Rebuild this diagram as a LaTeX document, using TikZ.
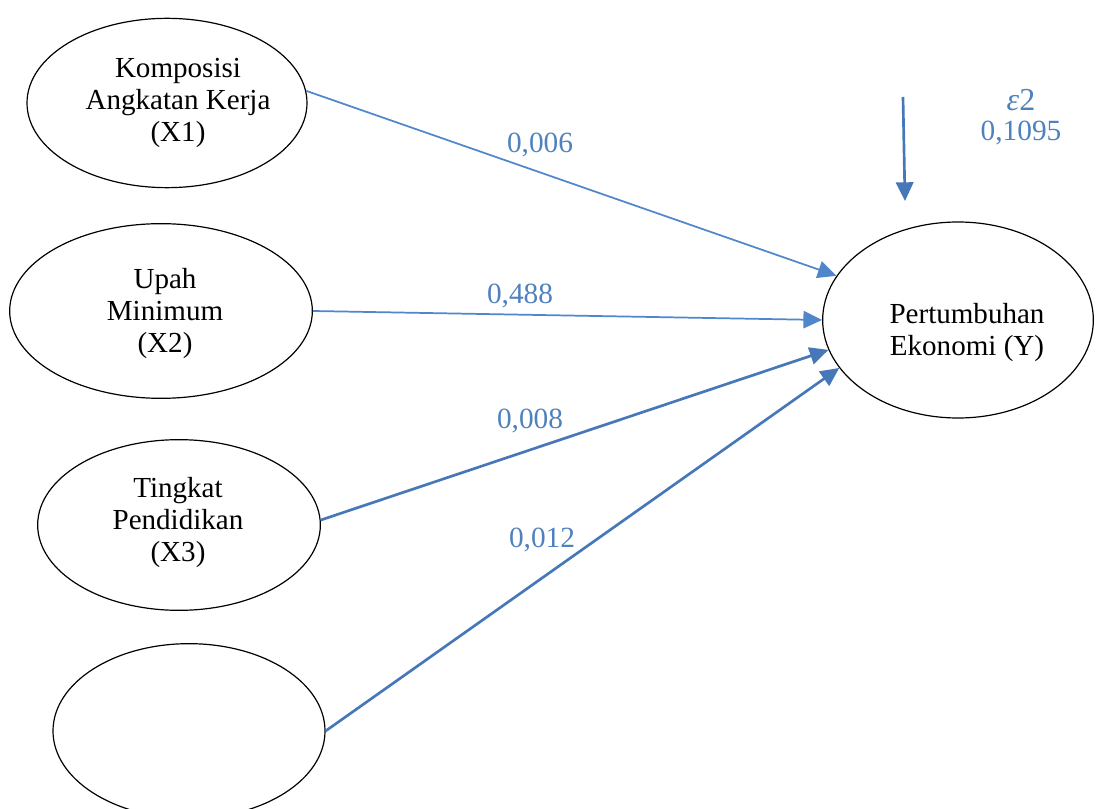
\documentclass[tikz,border=0pt]{standalone}
\usepackage{fontspec}
\setmainfont{Liberation Serif}
\usetikzlibrary{shapes.geometric,arrows.meta}
\definecolor{arrowblue}{HTML}{4F86CC}
\definecolor{darkarrow}{HTML}{4677B8}
\definecolor{labelblue}{HTML}{4F81BD}
\tikzset{
  var/.style={draw=black, line width=0.9pt, ellipse, inner sep=0pt},
  vartext/.style={align=center, font=\fontsize{21.8}{24}\selectfont, inner sep=0pt},
  path/.style={draw=arrowblue, line width=1.3pt, -{Triangle[length=14pt,width=13pt]}},
  thickpath/.style={draw=darkarrow, line width=2pt, -{Triangle[length=14pt,width=13pt]}},
  coef/.style={text=labelblue, font=\fontsize{22}{24}\selectfont, inner sep=0pt}
}
\begin{document}
\begin{tikzpicture}[x=0.75pt,y=-0.75pt]
\useasboundingbox (0,0) rectangle (1104,809);
\clip (0,0) rectangle (1104,809);
% ellipses
\node[var, minimum width=210pt, minimum height=127pt] (e1) at (167,103) {};
\node[var, minimum width=227pt, minimum height=131pt] (e2) at (161,311) {};
\node[var, minimum width=212pt, minimum height=128pt] (e3) at (179,525) {};
\node[var, minimum width=204pt, minimum height=131pt] (e4) at (189,731) {};
\node[var, minimum width=203pt, minimum height=147pt] (y) at (958,320) {};
% texts
\node[vartext] (t1) at (178,103) {Komposisi\\Angkatan Kerja\\(X1)};
\node[vartext] (t2) at (165,314) {Upah\\Minimum\\(X2)};
\node[vartext] (t3) at (178,523) {Tingkat\\Pendidikan\\(X3)};
\node[vartext] (ty) at (967,333) {Pertumbuhan\\Ekonomi (Y)};
% paths
\draw[path] (e1.5) -- (y.160);
\draw[path] (e2.0) -- (y.180);
\draw[thickpath] (e3.2) -- (y.193);
\draw[thickpath] (e4.0) -- (y.202);
% error term
\coordinate (es) at (903,97);
\coordinate (ee) at (905,201);
\draw[thickpath] (es) -- (ee);
% labels
\node[coef] (l1) at (540,145) {0,006};
\node[coef] (l2) at (520,296) {0,488};
\node[coef] (l3) at (530,421) {0,008};
\node[coef] (l4) at (542,540) {0,012};
\node[coef, font=\fontsize{24}{26}\selectfont] (le) at (1021,100) {\textit{ε}2};
\node[coef] (lv) at (1021,133) {0,1095};
\end{tikzpicture}
\end{document}
